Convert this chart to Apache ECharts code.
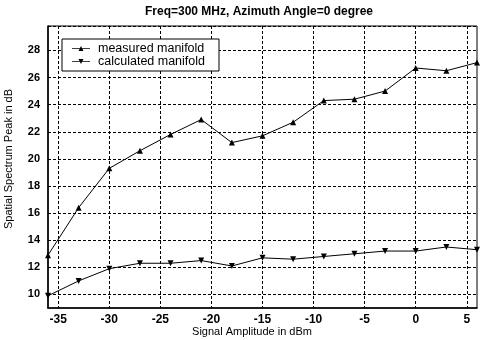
<!DOCTYPE html>
<html><head><meta charset="utf-8">
<script src="https://cdn.jsdelivr.net/npm/echarts@6/dist/echarts.min.js"></script>
<style>html,body{margin:0;padding:0;background:#fff}#c{width:480px;height:340px}</style>
</head><body><div id="c"></div>
<script>
const amplitude = [-36,-33,-30,-27,-24,-21,-18,-15,-12,-9,-6,-3,0,3,6];
const measured = [12.9,16.4,19.3,20.6,21.8,22.9,21.2,21.7,22.7,24.3,24.4,25.0,26.7,26.5,27.1];
const calculated = [9.9,11.0,11.9,12.3,12.3,12.5,12.1,12.7,12.6,12.8,13.0,13.2,13.2,13.5,13.3];
const xTickLabels = [-35,-30,-25,-20,-15,-10,-5,0,5];
const yTickLabels = [10,12,14,16,18,20,22,24,26,28];

const FONT = 'Liberation Sans, Arial, sans-serif';
const T = 'rgba(0,0,0,0)';
const chart = echarts.init(document.getElementById('c'), null, {renderer: 'canvas'});
chart.setOption({
  animation: false,
  backgroundColor: '#fff',
  title: {
    text: 'Freq=300 MHz, Azimuth Angle=0 degree',
    left: 259, top: 6, padding: 0, textAlign: 'center',
    textStyle: {fontFamily: FONT, fontSize: 12, fontWeight: 'bold', color: '#000'}
  },
  grid: {left: 48, right: 0, top: 26, bottom: 32, show: true, borderColor: '#000', borderWidth: 1, backgroundColor: 'transparent'},
  legend: {
    orient: 'vertical', left: 62, top: 39, padding: [3, 14, 3, 10], itemGap: 0,
    itemWidth: 18, itemHeight: 5,
    backgroundColor: '#fff', borderColor: '#000', borderWidth: 1, borderRadius: 0,
    textStyle: {fontFamily: FONT, fontSize: 12.5, lineHeight: 12, color: '#000', padding: [0,0,0,3]},
    data: [
      {name: 'measured manifold', icon: 'path://M0,2.2 L18,2.2 L18,3 L0,3 Z M6.5,5 L9,0 L11.5,5 Z'},
      {name: 'calculated manifold', icon: 'path://M0,2 L18,2 L18,2.8 L0,2.8 Z M6.5,0 L11.5,0 L9,5 Z'}
    ]
  },
  xAxis: {
    type: 'value', min: -36, max: 6, interval: 1,
    axisLine: {show: true, onZero: false, lineStyle: {color: '#000', width: 1.5}},
    axisTick: {show: false},
    axisLabel: {
      margin: 6, fontFamily: FONT, fontSize: 12, fontWeight: 'bold', color: '#000',
      formatter: v => xTickLabels.includes(v) ? String(v) : ''
    },
    splitLine: {show: true, lineStyle: {color: [T, '#000', T, T, T], type: [3, 2], width: 1}}
  },
  yAxis: {
    type: 'value', min: 9, max: 29.8, interval: 1,
    axisLine: {show: true, onZero: false, lineStyle: {color: '#000', width: 1.5}},
    axisTick: {show: false},
    axisLabel: {
      margin: 8, fontFamily: FONT, fontSize: 11, fontWeight: 'bold', color: '#000',
      formatter: v => yTickLabels.includes(v) ? String(v) : ''
    },
    splitLine: {show: true, lineStyle: {color: [T, '#000'], type: [3, 2], width: 1}}
  },
  graphic: [
    {type: 'text', x: 252, y: 332, style: {text: 'Signal Amplitude in dBm', font: '11px ' + FONT, fill: '#000', align: 'center', verticalAlign: 'middle'}},
    {type: 'text', x: 9, y: 159, rotation: Math.PI / 2, style: {text: 'Spatial Spectrum Peak in dB', font: '11px ' + FONT, fill: '#000', align: 'center', verticalAlign: 'middle'}}
  ],
  series: [
    {
      name: 'measured manifold', type: 'line',
      data: amplitude.map((x, i) => [x, measured[i]]),
      symbol: 'triangle', symbolSize: 6,
      lineStyle: {color: '#000', width: 1}, itemStyle: {color: '#000'}
    },
    {
      name: 'calculated manifold', type: 'line',
      data: amplitude.map((x, i) => [x, calculated[i]]),
      symbol: 'triangle', symbolSize: 6, symbolRotate: 180,
      lineStyle: {color: '#000', width: 1}, itemStyle: {color: '#000'}
    }
  ]
});
</script></body></html>
